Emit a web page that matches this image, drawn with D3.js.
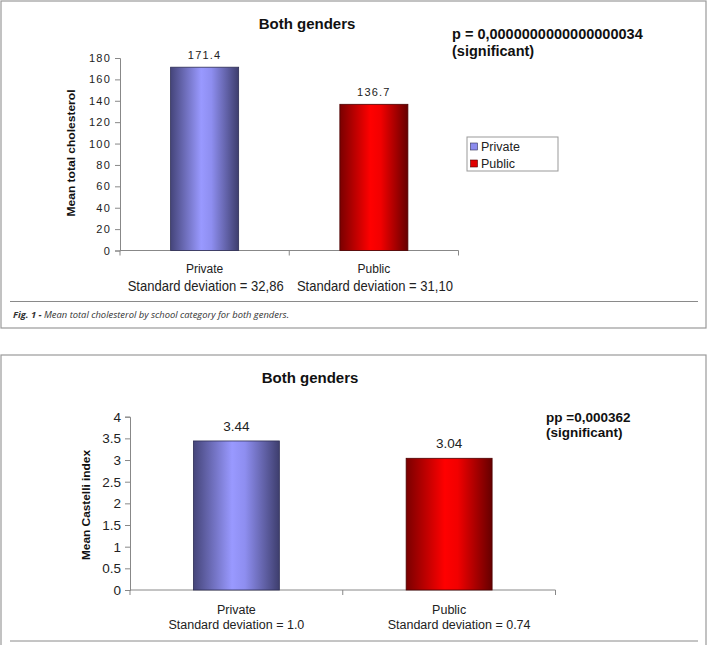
<!DOCTYPE html>
<html>
<head>
<meta charset="utf-8">
<script src="https://cdn.jsdelivr.net/npm/d3@7"></script>
<style>
  body { margin: 0; background: #fff; }
  svg { display: block; }
</style>
</head>
<body>
<div id="chart"></div>
<script>
const width = 708
const height = 645

// chart 1: cholesterol
const categories = ['Private', 'Public']
const cholValues = [171.4, 136.7]
const cholTicks = [0, 20, 40, 60, 80, 100, 120, 140, 160, 180]
const cholSd = ['Standard deviation = 32,86', 'Standard deviation = 31,10']

// chart 2: Castelli index
const castValues = [3.44, 3.04]
const castTicks = [0, 0.5, 1, 1.5, 2, 2.5, 3, 3.5, 4]
const castSd = ['Standard deviation = 1.0', 'Standard deviation = 0.74']

const svg = d3.select('#chart').append('svg')
    .attr('width', width)
    .attr('height', height)

// gradients for the bars
const defs = svg.append('defs')
const grads = [
    {id: 'gPriv', stops: [['0%', '#45457a'], ['45%', '#9999ff'], ['60%', '#8e8ef0'], ['100%', '#3e3e6e']]},
    {id: 'gPub', stops: [['0%', '#7a0000'], ['45%', '#ff0000'], ['60%', '#f20000'], ['100%', '#660000']]}
]
grads.forEach(g => {
    let lg = defs.append('linearGradient').attr('id', g.id)
        .attr('x1', '0%').attr('x2', '100%').attr('y1', '0%').attr('y2', '0%')
    g.stops.forEach(s => lg.append('stop').attr('offset', s[0]).attr('stop-color', s[1]))
})
const fills = ['url(#gPriv)', 'url(#gPub)']
const borders = ['#2e2e55', '#4d0000']

const sans = '"Liberation Sans", Arial, sans-serif'

// panel frames
svg.append('rect').attr('x', 1).attr('y', 1).attr('width', 705).attr('height', 327)
    .attr('fill', 'none').attr('stroke', '#9a9a9a').attr('stroke-width', 1.2)
svg.append('rect').attr('x', 1).attr('y', 355).attr('width', 705).attr('height', 320)
    .attr('fill', 'none').attr('stroke', '#9a9a9a').attr('stroke-width', 1.2)

// separators
svg.append('line').attr('x1', 10).attr('x2', 698).attr('y1', 301.5).attr('y2', 301.5)
    .attr('stroke', '#8a8a8a').attr('stroke-width', 1)
svg.append('line').attr('x1', 10).attr('x2', 698).attr('y1', 641).attr('y2', 641)
    .attr('stroke', '#8a8a8a').attr('stroke-width', 1)

// caption
let cap = svg.append('text').attr('x', 13).attr('y', 318)
    .attr('font-family', '"Open Sans", "Noto Sans", sans-serif')
    .attr('font-size', 9.4).attr('font-style', 'italic').attr('fill', '#333')
    .attr('textLength', 276).attr('lengthAdjust', 'spacingAndGlyphs')
cap.append('tspan').attr('font-weight', 'bold').text('Fig. 1 - ')
cap.append('tspan').text('Mean total cholesterol by school category for both genders.')

function drawChart(cfg){
    let g = svg.append('g')

    let x = d3.scaleBand().domain(categories).range(cfg.xRange).padding(0)
    let y = d3.scaleLinear().domain(cfg.yDomain).range(cfg.yRange)
    let bw = x.bandwidth() * cfg.barFrac

    // y axis
    let yAxis = g.append('g')
        .attr('transform', `translate(${cfg.xRange[0]},0)`)
        .call(d3.axisLeft(y).tickValues(cfg.ticks).tickFormat(d => String(d)).tickSize(5).tickPadding(4))
    yAxis.selectAll('path, line').attr('stroke', '#888')
    yAxis.selectAll('text')
        .attr('font-family', sans).attr('font-size', cfg.tickSize)
        .attr('letter-spacing', cfg.tickSpacing).attr('fill', '#222')

    // x axis
    let y0 = y(0)
    g.append('line').attr('x1', cfg.xRange[0]).attr('x2', cfg.xRange[1])
        .attr('y1', y0).attr('y2', y0).attr('stroke', '#888')
    let bounds = [cfg.xRange[0], x(categories[1]), cfg.xRange[1]]
    g.selectAll('.xt').data(bounds).join('line')
        .attr('x1', d => d).attr('x2', d => d)
        .attr('y1', y0).attr('y2', y0 + 5).attr('stroke', '#888')

    // bars
    g.selectAll('.bar').data(cfg.values).join('rect')
        .attr('x', (d, i) => x(categories[i]) + (x.bandwidth() - bw) / 2)
        .attr('y', d => y(d))
        .attr('width', bw)
        .attr('height', d => y0 - y(d))
        .attr('fill', (d, i) => fills[i])
        .attr('stroke', (d, i) => borders[i])
        .attr('stroke-width', 0.8)

    // value labels
    g.selectAll('.val').data(cfg.values).join('text')
        .attr('x', (d, i) => x(categories[i]) + x.bandwidth() / 2)
        .attr('y', d => y(d) - cfg.valOffset)
        .attr('text-anchor', 'middle')
        .attr('font-family', sans).attr('font-size', cfg.valSize)
        .attr('letter-spacing', cfg.tickSpacing).attr('fill', '#222')
        .text(d => cfg.valFormat(d))

    // category labels
    categories.forEach((c, i) => {
        let cx = x(c) + x.bandwidth() / 2
        g.append('text').attr('x', cx).attr('y', cfg.catY)
            .attr('text-anchor', 'middle').attr('font-family', sans)
            .attr('font-size', cfg.catSize).attr('fill', '#222').text(c)
        let sd = g.append('text').attr('x', cx + cfg.sdShift[i]).attr('y', cfg.sdY)
            .attr('text-anchor', 'middle').attr('font-family', sans)
            .attr('font-size', cfg.sdSize).attr('fill', '#222').text(cfg.sd[i])
        if (cfg.sdWidth) sd.attr('textLength', cfg.sdWidth).attr('lengthAdjust', 'spacingAndGlyphs')
    })

    // y title
    g.append('text')
        .attr('transform', `translate(${cfg.yTitleX},${cfg.yTitleY}) rotate(-90)`)
        .attr('text-anchor', 'middle').attr('font-family', sans)
        .attr('font-weight', 'bold').attr('font-size', cfg.yTitleSize)
        .attr('textLength', cfg.yTitleLen).attr('lengthAdjust', 'spacingAndGlyphs')
        .attr('fill', '#111')
        .text(cfg.yTitle)

    // title
    g.append('text').attr('x', cfg.titleX).attr('y', cfg.titleY)
        .attr('text-anchor', 'middle').attr('font-family', sans)
        .attr('font-weight', 'bold').attr('font-size', 15).attr('fill', '#111')
        .text('Both genders')

    // p value note
    cfg.note.forEach((t, i) => {
        g.append('text').attr('x', cfg.noteX).attr('y', cfg.noteY + i * cfg.noteGap)
            .attr('font-family', sans).attr('font-weight', 'bold')
            .attr('font-size', cfg.noteSize).attr('fill', '#111').text(t)
    })
}

drawChart({
    xRange: [120, 458.5], yDomain: [0, 180], yRange: [250.5, 58], ticks: cholTicks,
    values: cholValues, barFrac: 0.402, sd: cholSd, sdShift: [1, 1], sdWidth: 156,
    tickSize: 11, tickSpacing: 1.2, valSize: 11, valOffset: 8,
    valFormat: d => d.toFixed(1),
    catY: 273, catSize: 12, sdY: 290.5, sdSize: 14.5,
    yTitle: 'Mean total cholesterol', yTitleX: 75, yTitleY: 153, yTitleSize: 11, yTitleLen: 127,
    titleX: 307, titleY: 29,
    note: ['p = 0,0000000000000000034', '(significant)'], noteX: 452, noteY: 39, noteGap: 17, noteSize: 14.5
})

drawChart({
    xRange: [130, 555.5], yDomain: [0, 4], yRange: [590, 416.7], ticks: castTicks,
    values: castValues, barFrac: 0.404, sd: castSd, sdShift: [0, 10], sdWidth: null,
    tickSize: 13.5, tickSpacing: 0, valSize: 13.5, valOffset: 10,
    valFormat: d => d.toFixed(2),
    catY: 613.5, catSize: 12.5, sdY: 628.5, sdSize: 12.5,
    yTitle: 'Mean Castelli index', yTitleX: 90, yTitleY: 505, yTitleSize: 10.5, yTitleLen: 110,
    titleX: 310, titleY: 383,
    note: ['pp =0,000362', '(significant)'], noteX: 546, noteY: 421.5, noteGap: 15.5, noteSize: 13.5
})

// legend for the first chart
let leg = svg.append('g').attr('transform', 'translate(467,137)')
leg.append('rect').attr('width', 91).attr('height', 34)
    .attr('fill', '#fff').attr('stroke', '#999')
categories.forEach((c, i) => {
    leg.append('rect').attr('x', 3.5).attr('y', 6 + i * 17).attr('width', 7).attr('height', 7)
        .attr('fill', i == 0 ? '#8c8cee' : '#e00000').attr('stroke', borders[i]).attr('stroke-width', 0.6)
    leg.append('text').attr('x', 14).attr('y', 13.5 + i * 17)
        .attr('font-family', sans).attr('font-size', 12.5).attr('fill', '#222').text(c)
})
</script>
</body>
</html>
